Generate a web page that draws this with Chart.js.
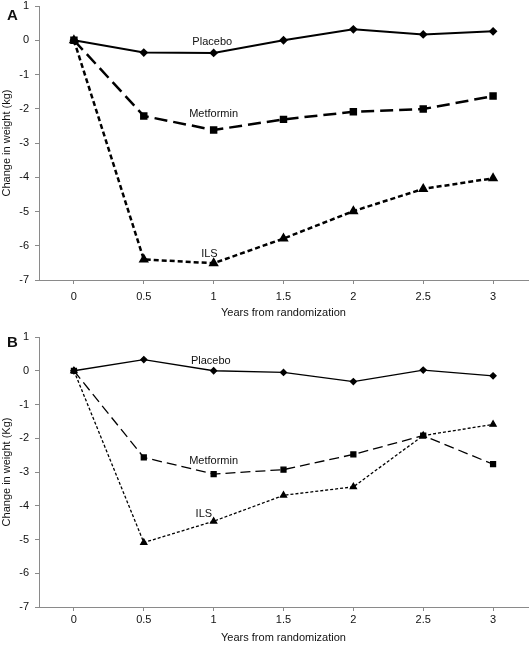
<!DOCTYPE html>
<html>
<head>
<meta charset="utf-8">
<script src="https://cdn.jsdelivr.net/npm/chart.js@4/dist/chart.umd.min.js"></script>
<style>
    body { margin: 0; background: #fff; }
    #wrap { position: relative; width: 529px; height: 646px; }
    canvas { position: absolute; left: 0; }
    .panel { position: absolute; left: 7px; font: bold 15px "Liberation Sans", Arial, sans-serif; color: #111; }
</style>
</head>
<body>
<div id="wrap">
    <canvas id="chartA" width="529" height="323" style="top:0"></canvas>
    <canvas id="chartB" width="529" height="323" style="top:323px"></canvas>
    <div class="panel" style="top:6px">A</div>
    <div class="panel" style="top:333px">B</div>
</div>
<script>
// years on the x axis (also the tick labels)
const years = [0, 0.5, 1, 1.5, 2, 2.5, 3];
const yTickValues = [1, 0, -1, -2, -3, -4, -5, -6, -7];

// Panel A
const placeboA = [0, -0.36, -0.37, 0.0, 0.32, 0.17, 0.26];
const metforminA = [0, -2.21, -2.62, -2.31, -2.09, -2.01, -1.63];
const ilsA = [0, -6.40, -6.51, -5.79, -4.99, -4.34, -4.03];

// Panel B
const placeboB = [0, 0.33, 0.0, -0.05, -0.32, 0.02, -0.15];
const metforminB = [0, -2.57, -3.06, -2.93, -2.48, -1.92, -2.77];
const ilsB = [0, -5.09, -4.46, -3.69, -3.44, -1.92, -1.59];

const seriesNames = ["Placebo", "Metformin", "ILS"];

// where the in-plot series names sit (data units)
const namePosA = [[0.99, -0.05], [1.0, -2.15], [0.97, -6.25]];
const namePosB = [[0.98, 0.30], [1.0, -2.67], [0.93, -4.24]];

const FONT = "'Liberation Sans', Arial, sans-serif";
const AXIS_GREY = "#8a8a8a";

function toPoints(values) {
    return values.map((v, i) => ({ x: years[i], y: v }));
}

// draws the series names inside the plot
const seriesNamePlugin = {
    id: "seriesNames",
    afterDatasetsDraw(chart, args, opts) {
        const ctx = chart.ctx;
        const xs = chart.scales.x, ys = chart.scales.y;
        ctx.save();
        ctx.font = "11px " + FONT;
        ctx.fillStyle = "#111";
        ctx.textAlign = "center";
        ctx.textBaseline = "middle";
        opts.positions.forEach((p, i) => {
            ctx.fillText(seriesNames[i], xs.getPixelForValue(p[0]), ys.getPixelForValue(p[1]));
        });
        ctx.restore();
    }
};

function makeChart(id, series, namePos, opt) {
    const ctx = document.getElementById(id).getContext("2d");
    return new Chart(ctx, {
        type: "line",
        data: {
            datasets: [
                {
                    label: "Placebo",
                    data: toPoints(series[0]),
                    borderColor: "#000",
                    backgroundColor: "#000",
                    borderWidth: opt.lw[0],
                    pointStyle: "rectRot",
                    pointRadius: 3,
                    borderDash: [],
                    tension: 0
                },
                {
                    label: "Metformin",
                    data: toPoints(series[1]),
                    borderColor: "#000",
                    backgroundColor: "#000",
                    borderWidth: opt.lw[1],
                    pointStyle: "rect",
                    pointRadius: 3.5,
                    borderDash: opt.dash[1],
                    tension: 0
                },
                {
                    label: "ILS",
                    data: toPoints(series[2]),
                    borderColor: "#000",
                    backgroundColor: "#000",
                    borderWidth: opt.lw[2],
                    pointStyle: "triangle",
                    pointRadius: 3.5,
                    borderDash: opt.dash[2],
                    tension: 0
                }
            ]
        },
        options: {
            responsive: false,
            animation: false,
            layout: { autoPadding: false, padding: { top: opt.top, right: 1, left: 0, bottom: 0 } },
            plugins: {
                legend: { display: false },
                tooltip: { enabled: false },
                seriesNames: { positions: namePos }
            },
            scales: {
                x: {
                    type: "linear",
                    min: -0.25,
                    max: 3.25,
                    afterBuildTicks: s => { s.ticks = years.map(v => ({ value: v })); },
                    afterFit: s => { s.height = opt.xHeight; s.paddingLeft = 0; s.paddingRight = 0; },
                    ticks: {
                        font: { family: FONT, size: 11 },
                        color: "#111",
                        padding: opt.xPad,
                        maxRotation: 0,
                        callback: v => String(v)
                    },
                    grid: { drawOnChartArea: false, tickLength: 4, color: AXIS_GREY },
                    border: { display: true, color: AXIS_GREY },
                    title: {
                        display: true,
                        text: "Years from randomization",
                        font: { family: FONT, size: 11 },
                        color: "#111",
                        padding: { top: 0, bottom: opt.titlePad }
                    }
                },
                y: {
                    min: -7,
                    max: 1,
                    afterBuildTicks: s => { s.ticks = yTickValues.map(v => ({ value: v })); },
                    afterFit: s => { s.width = 39; s.paddingTop = 0; s.paddingBottom = 0; },
                    ticks: {
                        font: { family: FONT, size: 11 },
                        color: "#111",
                        padding: 6
                    },
                    grid: { drawOnChartArea: false, tickLength: 4, color: AXIS_GREY },
                    border: { display: true, color: AXIS_GREY },
                    title: {
                        display: true,
                        text: opt.yTitle,
                        font: { family: FONT, size: 11 },
                        color: "#111",
                        padding: { top: 0, bottom: 0 }
                    }
                }
            }
        },
        plugins: [seriesNamePlugin]
    });
}

makeChart("chartA", [placeboA, metforminA, ilsA], namePosA, {
    top: 6, xHeight: 43, xPad: 6, titlePad: 3,
    lw: [2, 2.5, 2.5],
    dash: [[], [13, 6], [5, 3]],
    yTitle: "Change in weight (kg)"
});

makeChart("chartB", [placeboB, metforminB, ilsB], namePosB, {
    top: 14, xHeight: 39, xPad: 2, titlePad: 1,
    lw: [1.3, 1.3, 1.3],
    dash: [[], [10, 5], [3, 2]],
    yTitle: "Change in weight (Kg)"
});
</script>
</body>
</html>
